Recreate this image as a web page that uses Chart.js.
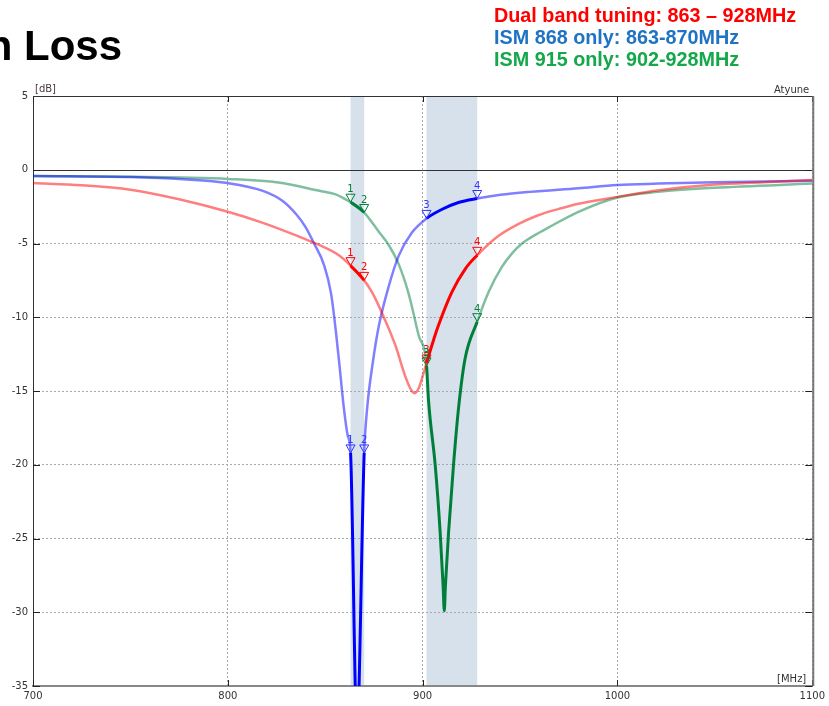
<!DOCTYPE html>
<html>
<head>
<meta charset="utf-8">
<script src="https://cdn.jsdelivr.net/npm/chart.js@4.4.1/dist/chart.umd.min.js"></script>
<style>
  html, body { margin: 0; padding: 0; background: #fff; overflow: hidden; }
  #wrap { position: relative; width: 829px; height: 706px; }
</style>
</head>
<body>
<div id="wrap"><canvas id="rlChart" width="829" height="706"></canvas></div>
<script>
// axes
const xTicks = [700, 800, 900, 1000, 1100];
const yTicks = [5, 0, -5, -10, -15, -20, -25, -30, -35];

// shaded bands [MHz]
const bands = [[863, 870], [902, 928]];

// marker positions and their labels
const markerFreqs = [863, 870, 902, 928];
const markerLabels = ['1', '2', '3', '4'];

// legend / title text
const titleText = 'Return Loss';
const legendLines = [
  'Dual band tuning: 863 \u2013 928MHz',
  'ISM 868 only: 863-870MHz',
  'ISM 915 only: 902-928MHz'
];

// Dual band tuning (red)
const redFreq = [700, 725, 750, 775, 800, 818, 835, 846, 857, 863, 870, 874, 879, 886, 891, 894, 896, 898, 900, 902, 905, 908, 915, 922, 928, 939, 949, 959, 970, 980, 1000, 1021, 1050, 1075, 1100];
const redDb   = [-0.9, -1.05, -1.35, -2.0, -2.85, -3.6, -4.45, -5.05, -5.8, -6.5, -7.5, -8.3, -9.67, -11.9, -13.97, -14.9, -15.15, -14.8, -14.0, -13.1, -11.8, -10.6, -8.3, -6.7, -5.8, -4.48, -3.69, -3.1, -2.65, -2.3, -1.84, -1.39, -1.0, -0.85, -0.69];

// ISM 868 only (blue)
const blueFreq = [700, 750, 777, 800, 818, 828, 835, 840, 844, 849.5, 853, 855.5, 857.5, 859.6, 861.5, 863, 866.3, 870, 871.5, 874.5, 877.5, 882.6, 887.7, 894.5, 902, 910, 918.4, 928, 940, 955, 980, 1000, 1021, 1050, 1100];
const blueDb   = [-0.42, -0.49, -0.64, -0.9, -1.43, -2.1, -3.0, -3.9, -4.93, -6.5, -8.4, -11.0, -13.5, -16.2, -18.0, -19.2, -38, -19.2, -16.2, -13.0, -10.6, -7.9, -5.84, -4.26, -3.3, -2.68, -2.22, -1.95, -1.7, -1.5, -1.25, -1.03, -0.94, -0.85, -0.75];

// ISM 915 only (green)
const greenFreq = [700, 750, 777, 800, 826, 847, 855, 859, 863, 870, 877.5, 882.6, 887.7, 892.8, 897.9, 902, 903, 906.5, 909, 910.5, 911.1, 911.7, 913.3, 915.8, 918.4, 921.8, 928, 933.8, 940.6, 946, 951, 958, 964.5, 980, 1000, 1021, 1050, 1100];
const greenDb   = [-0.42, -0.47, -0.53, -0.62, -0.87, -1.43, -1.65, -1.9, -2.2, -2.9, -4.2, -5.1, -6.4, -8.4, -11.2, -13.3, -15.6, -20.1, -24.6, -28.2, -29.9, -28.2, -24.6, -20.1, -16.2, -12.8, -10.3, -8.3, -6.6, -5.65, -5.0, -4.4, -3.92, -2.85, -1.88, -1.5, -1.22, -0.94];

const series = [
  { name: 'Dual band', freq: redFreq, db: redDb, light: 'rgba(255,0,0,0.5)', dark: '#ff0000', mark: '#ff0000' },
  { name: 'ISM 868', freq: blueFreq, db: blueDb, light: 'rgba(0,0,255,0.5)', dark: '#0000ff', mark: '#3333ff' },
  { name: 'ISM 915', freq: greenFreq, db: greenDb, light: 'rgba(0,128,64,0.5)', dark: '#007f3a', mark: '#007f3a' }
];

const sameBand = (a, b) => bands.some(r => a >= r[0] && b <= r[1]);

const datasets = series.map(s => ({
  label: s.name,
  data: s.freq.map((f, i) => ({ x: f, y: s.db[i] })),
  borderColor: s.light,
  borderWidth: 2.5,
  pointRadius: 0,
  cubicInterpolationMode: 'monotone',
  fill: false,
  clip: 0,
  segment: {
    borderColor: ctx => sameBand(ctx.p0.parsed.x, ctx.p1.parsed.x) ? s.dark : s.light,
    borderWidth: ctx => sameBand(ctx.p0.parsed.x, ctx.p1.parsed.x) ? 3 : 2.5
  }
}));

const tickFont = { family: 'DejaVu Sans', size: 10 };

const decorPlugin = {
  id: 'decor',
  beforeDraw(chart) {
    const { ctx, chartArea: a, scales: { x } } = chart;
    ctx.save();
    ctx.fillStyle = '#d6e1ec';
    bands.forEach(b => {
      const x1 = x.getPixelForValue(b[0]);
      const x2 = x.getPixelForValue(b[1]);
      ctx.fillRect(x1, a.top, x2 - x1, a.bottom - a.top);
    });
    ctx.restore();
  },
  beforeDatasetsDraw(chart) {
    const { ctx, chartArea: a, scales: { x, y } } = chart;
    ctx.save();
    // zero line
    const y0 = Math.round(y.getPixelForValue(0)) + 0.5;
    ctx.strokeStyle = '#333';
    ctx.lineWidth = 1;
    ctx.beginPath();
    ctx.moveTo(a.left, y0);
    ctx.lineTo(a.right, y0);
    ctx.stroke();
    // inward tick marks
    ctx.strokeStyle = '#222';
    yTicks.forEach(v => {
      const py = Math.round(y.getPixelForValue(v)) + 0.5;
      ctx.beginPath();
      ctx.moveTo(a.left, py); ctx.lineTo(a.left + 7, py);
      ctx.moveTo(a.right - 7, py); ctx.lineTo(a.right, py);
      ctx.stroke();
    });
    xTicks.forEach(v => {
      const px = Math.round(x.getPixelForValue(v)) + 0.5;
      ctx.beginPath();
      ctx.moveTo(px, a.top); ctx.lineTo(px, a.top + 6);
      ctx.moveTo(px, a.bottom - 6); ctx.lineTo(px, a.bottom);
      ctx.stroke();
    });
    ctx.restore();
  },
  afterDatasetsDraw(chart) {
    const { ctx, chartArea: a, scales: { x, y } } = chart;
    ctx.save();
    // frame: top and right
    ctx.strokeStyle = '#333';
    ctx.lineWidth = 1;
    ctx.beginPath();
    ctx.moveTo(a.left, a.top + 0.5);
    ctx.lineTo(a.right, a.top + 0.5);
    ctx.stroke();
    ctx.strokeStyle = '#777';
    ctx.lineWidth = 2;
    ctx.beginPath();
    ctx.moveTo(a.right + 1, a.top);
    ctx.lineTo(a.right + 1, a.bottom);
    ctx.stroke();

    // markers
    ctx.font = '10px "DejaVu Sans"';
    ctx.textAlign = 'center';
    ctx.textBaseline = 'alphabetic';
    ctx.lineWidth = 1;
    series.forEach(s => {
      markerFreqs.forEach((f, i) => {
        const idx = s.freq.indexOf(f);
        if (idx < 0) return;
        const px = x.getPixelForValue(f);
        const py = y.getPixelForValue(s.db[idx]);
        ctx.strokeStyle = s.mark;
        ctx.fillStyle = s.mark;
        ctx.beginPath();
        ctx.moveTo(px - 4.5, py - 8);
        ctx.lineTo(px + 4.5, py - 8);
        ctx.lineTo(px, py);
        ctx.closePath();
        ctx.stroke();
        ctx.fillText(markerLabels[i], px, py - 10);
      });
    });
    ctx.restore();
  },
  afterDraw(chart) {
    const { ctx, chartArea: a } = chart;
    ctx.save();
    // title (cut off at the left edge as in the slide)
    ctx.fillStyle = '#000';
    ctx.font = 'bold 42px "Liberation Sans", Arial, sans-serif';
    ctx.textAlign = 'right';
    ctx.fillText(titleText, 122, 60);
    // legend lines
    ctx.textAlign = 'left';
    ctx.font = 'bold 19.8px "Liberation Sans", Arial, sans-serif';
    const cols = ['#ff0000', '#1f72c4', '#14a84a'];
    const bases = [22, 44, 66];
    legendLines.forEach((t, i) => {
      ctx.fillStyle = cols[i];
      ctx.fillText(t, 494, bases[i]);
    });
    // axis captions
    ctx.font = '10px "DejaVu Sans"';
    ctx.fillStyle = '#4a3a3a';
    ctx.fillText('[dB]', a.left + 2, a.top - 4);
    ctx.textAlign = 'right';
    ctx.fillStyle = '#333';
    ctx.fillText('Atyune', a.right - 3, a.top - 3);
    ctx.fillText('[MHz]', a.right - 6, a.bottom - 4);
    ctx.restore();
  }
};

new Chart(document.getElementById('rlChart'), {
  type: 'line',
  data: { datasets },
  options: {
    responsive: false,
    animation: false,
    events: [],
    layout: { padding: { top: 96, right: 14, left: 0, bottom: 0 } },
    plugins: { legend: { display: false }, tooltip: { enabled: false } },
    scales: {
      x: {
        type: 'linear',
        min: 700,
        max: 1100,
        afterBuildTicks: scale => { scale.ticks = xTicks.map(v => ({ value: v })); },
        afterFit: scale => { scale.height = 20; },
        grid: { color: '#a8a8a8', lineWidth: 1, drawTicks: false },
        border: { color: '#888', width: 2, dash: [2, 2] },
        ticks: { font: tickFont, color: '#333', padding: 4, maxRotation: 0, callback: v => String(v) }
      },
      y: {
        type: 'linear',
        min: -35,
        max: 5,
        afterBuildTicks: scale => { scale.ticks = yTicks.map(v => ({ value: v })); },
        afterFit: scale => { scale.width = 33; },
        grid: {
          color: c => c.tick && c.tick.value === 0 ? 'rgba(0,0,0,0)' : '#a8a8a8',
          lineWidth: 1,
          drawTicks: false
        },
        border: { color: '#333', width: 1, dash: [2, 2] },
        ticks: { font: tickFont, color: '#333', padding: 5, callback: v => String(v) }
      }
    }
  },
  plugins: [decorPlugin]
});
</script>
</body>
</html>
